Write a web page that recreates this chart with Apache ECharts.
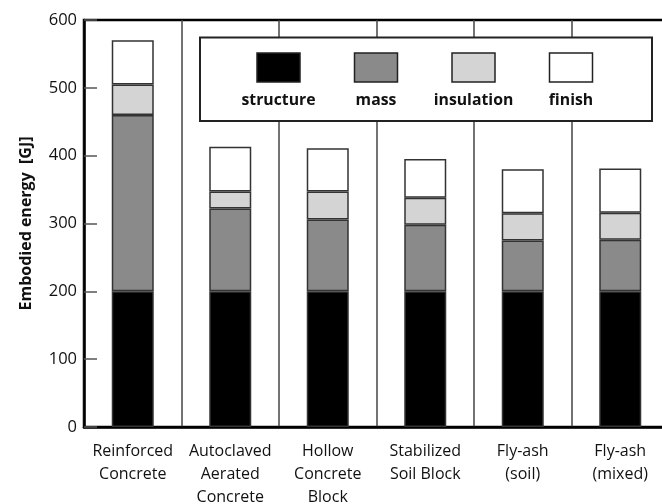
<!DOCTYPE html>
<html>
<head>
<meta charset="utf-8">
<script src="https://cdn.jsdelivr.net/npm/echarts@6/dist/echarts.min.js"></script>
<style>
html,body{margin:0;padding:0;background:#fff;}
#c{width:662px;height:504px;}
</style>
</head>
<body>
<div id="c"></div>
<script>
const categories = ['Reinforced\nConcrete','Autoclaved\nAerated\nConcrete','Hollow\nConcrete\nBlock','Stabilized\nSoil Block','Fly-ash\n(soil)','Fly-ash\n(mixed)'];
const seriesNames = ['structure','mass','insulation','finish'];
const structure = [200,200,200,200,200,200];
const mass = [260,122,106,98,75,76];
const insulation = [45,25,41,40,40,40];
const finish = [65,66,64,57,65,65];
const yMin = 0, yMax = 600, yStep = 100;
const colors = ['#000000','#8a8a8a','#d4d4d4','#ffffff'];
const values = [structure, mass, insulation, finish];

const FONT = '"Open Sans", "Liberation Sans", sans-serif';
const chart = echarts.init(document.getElementById('c'), null, {renderer:'canvas'});

const legendItems = [];
const legendCenters = [278.5, 376, 473.5, 571];
seriesNames.forEach((n,i)=>{
  legendItems.push({type:'rect', shape:{x:legendCenters[i]-21.5, y:53, width:43, height:29},
    style:{fill:colors[i], stroke:'#222', lineWidth:1.5}, z:102});
  legendItems.push({type:'text', x:legendCenters[i], y:100,
    style:{text:n, fill:'#111', font:'bold 15.8px ' + FONT, align:'center', verticalAlign:'middle'}, z:102});
});

chart.setOption({
  animation:false,
  grid:{left:84, top:20, width:585, height:407, containLabel:false, outerBoundsMode:'none',
        show:true, borderColor:'#000', borderWidth:2.5, backgroundColor:'transparent'},
  xAxis:{type:'category', data:categories, boundaryGap:true,
    axisLine:{show:true, lineStyle:{color:'#000', width:2.5}},
    axisTick:{show:false},
    splitLine:{show:true, lineStyle:{color:'#444', width:1.5}},
    axisLabel:{color:'#111', fontSize:16, fontFamily:FONT, margin:13, lineHeight:23, interval:0}
  },
  yAxis:{type:'value', min:yMin, max:yMax, interval:yStep,
    name:'Embodied energy  [GJ]', nameLocation:'middle', nameGap:50,
    nameTextStyle:{color:'#111', fontSize:16, fontWeight:'bold', fontFamily:FONT},
    axisLine:{show:true, lineStyle:{color:'#000', width:2.5}},
    axisTick:{show:true, inside:true, length:13, lineStyle:{color:'#555', width:1.5}},
    splitLine:{show:false},
    axisLabel:{color:'#111', fontSize:16.5, fontFamily:FONT, margin:7}
  },
  series: seriesNames.map((n,i)=>({
    name:n, type:'bar', stack:'total', data:values[i], barWidth:42,
    itemStyle:{color:colors[i], borderColor:'#333', borderWidth:1.5}
  })),
  graphic:[{
    type:'group', z:100,
    children:[
      {type:'rect', shape:{x:200, y:37.5, width:452, height:83.5},
       style:{fill:'#fff', stroke:'#222', lineWidth:2}, z:101}
    ].concat(legendItems)
  }]
});
</script>
</body>
</html>
